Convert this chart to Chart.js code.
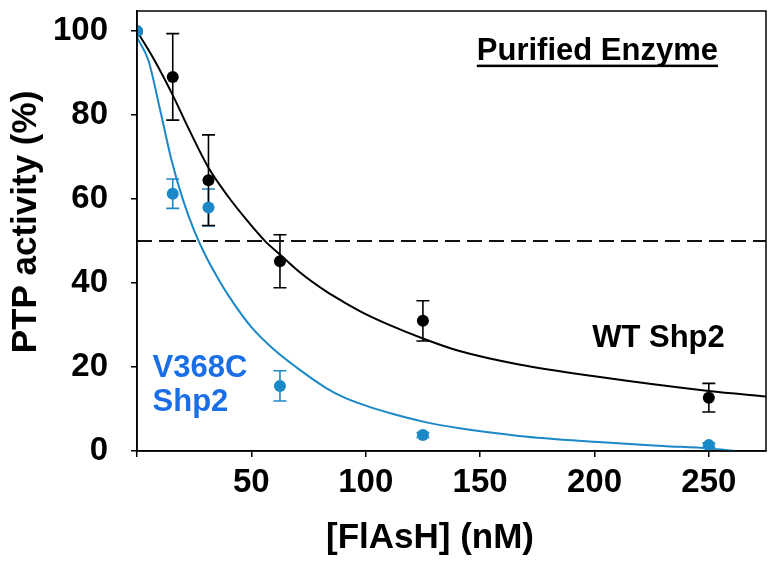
<!DOCTYPE html>
<html>
<head>
<meta charset="utf-8">
<script src="https://cdn.jsdelivr.net/npm/chart.js@4.4.1/dist/chart.umd.min.js"></script>
<style>
  html, body { margin: 0; padding: 0; background: #fff; }
  #wrap { width: 778px; height: 566px; }
</style>
</head>
<body>
<div id="wrap"><canvas id="myChart" width="778" height="566"></canvas></div>
<script>
// measured points (mean +/- error)
var dose = [0, 15.625, 31.25, 62.5, 125, 250];
var wtActivity = [100, 89.1, 64.5, 45.2, 31.0, 12.7];
var wtError = [0, 10.3, 10.8, 6.3, 4.8, 3.4];
var mutActivity = [100, 61.3, 58.0, 15.5, 3.8, 1.4];
var mutError = [0, 3.5, 4.4, 3.6, 0.6, 0.5];

// fitted curves
var wtFitX = [0, 7.7, 15.4, 23, 31, 40, 48, 56, 62.5, 72, 82.7, 90, 100, 110, 125, 141, 167, 200, 250, 275];
var wtFitY = [100, 93, 85, 76.3, 67.7, 60.5, 55, 50, 46.8, 42.2, 38.0, 35.6, 32.6, 30.1, 26.8, 23.8, 20.6, 17.8, 14.3, 13.0];
var mutFitX = [0, 5, 10, 15, 20, 25, 30, 35, 40, 50, 60, 70, 82.7, 90, 100, 112, 125, 141, 167, 200, 230, 250, 262];
var mutFitY = [98.5, 93, 81.5, 69.5, 60, 52.5, 46.5, 41.5, 37, 29.5, 24.1, 19.8, 15.0, 12.9, 10.8, 8.8, 7.0, 5.4, 3.6, 2.2, 1.2, 0.6, 0];

// 50% line
var halfX = [0, 275];
var halfY = [50, 50];

var xTicks = [0, 50, 100, 150, 200, 250];
var yTicks = [0, 20, 40, 60, 80, 100];

var FONT = "'Liberation Sans', Arial, sans-serif";
var BLUE = '#1b88c8';
var LABEL_BLUE = '#1a6fe6';

function pairs(xs, ys) {
    return xs.map(function (x, i) { return { x: x, y: ys[i] }; });
}

var errorBars = {
    id: 'errorBars',
    beforeDatasetsDraw: function (chart) {
        var ctx = chart.ctx, xs = chart.scales.x, ys = chart.scales.y;
        ctx.save();
        chart.data.datasets.forEach(function (ds) {
            if (!ds.errors) return;
            ctx.strokeStyle = ds.borderColor;
            ctx.lineWidth = 1.6;
            ds.data.forEach(function (p, j) {
                var e = ds.errors[j];
                if (!e) return;
                var px = xs.getPixelForValue(p.x);
                var top = ys.getPixelForValue(p.y + e);
                var bot = ys.getPixelForValue(p.y - e);
                ctx.beginPath();
                ctx.moveTo(px, top); ctx.lineTo(px, bot);
                ctx.moveTo(px - 6.5, top); ctx.lineTo(px + 6.5, top);
                ctx.moveTo(px - 6.5, bot); ctx.lineTo(px + 6.5, bot);
                ctx.stroke();
            });
        });
        ctx.restore();
    }
};

var labels = {
    id: 'labels',
    afterDraw: function (chart) {
        var ctx = chart.ctx, a = chart.chartArea, xs = chart.scales.x, ys = chart.scales.y;
        ctx.save();
        // frame
        ctx.strokeStyle = '#000';
        ctx.lineWidth = 1.5;
        ctx.strokeRect(a.left, a.top, a.right - a.left, a.bottom - a.top);

        ctx.fillStyle = '#000';
        ctx.font = 'bold 31px ' + FONT;
        ctx.textBaseline = 'alphabetic';
        ctx.textAlign = 'right';
        var rx = xs.getPixelForValue(254), by = ys.getPixelForValue(93.1);
        ctx.fillText('Purified Enzyme', rx, by);
        var w = ctx.measureText('Purified Enzyme').width;
        ctx.fillRect(rx - w, by + 4.5, w, 2.5);

        ctx.textAlign = 'left';
        ctx.fillText('WT Shp2', xs.getPixelForValue(199), ys.getPixelForValue(24.8));

        ctx.fillStyle = LABEL_BLUE;
        ctx.fillText('V368C', xs.getPixelForValue(6.8), ys.getPixelForValue(17.6));
        ctx.fillText('Shp2', xs.getPixelForValue(6.8), ys.getPixelForValue(9.6));

        // axis titles
        ctx.fillStyle = '#000';
        ctx.font = 'bold 35px ' + FONT;
        ctx.textAlign = 'center';
        ctx.fillText('[FlAsH] (nM)', 430, 548);
        ctx.translate(36, 222);
        ctx.rotate(-Math.PI / 2);
        ctx.font = 'bold 35px ' + FONT;
        ctx.fillText('PTP activity (%)', 0, 0);
        ctx.restore();
    }
};

var ctx = document.querySelector('#myChart').getContext('2d');
var myChart = new Chart(ctx, {
    type: 'scatter',
    data: {
        datasets: [
            {
                label: 'V368C Shp2',
                data: pairs(dose, mutActivity),
                errors: mutError,
                borderColor: BLUE,
                backgroundColor: BLUE,
                pointRadius: 6,
                pointBorderWidth: 0,
                showLine: false
            },
            {
                label: 'WT Shp2',
                data: pairs(dose, wtActivity),
                errors: wtError,
                borderColor: '#000',
                backgroundColor: '#000',
                pointRadius: 6,
                pointBorderWidth: 0,
                showLine: false
            },
            {
                label: 'V368C fit',
                data: pairs(mutFitX, mutFitY),
                borderColor: BLUE,
                borderWidth: 2,
                pointRadius: 0,
                showLine: true,
                cubicInterpolationMode: 'monotone'
            },
            {
                label: 'WT fit',
                data: pairs(wtFitX, wtFitY),
                borderColor: '#000',
                borderWidth: 2,
                pointRadius: 0,
                showLine: true,
                cubicInterpolationMode: 'monotone'
            },
            {
                label: '50%',
                data: pairs(halfX, halfY),
                borderColor: '#111',
                borderWidth: 2,
                borderDash: [15, 7],
                pointRadius: 0,
                showLine: true
            }
        ]
    },
    options: {
        responsive: false,
        animation: false,
        layout: { padding: { top: 11, right: 12, left: 0, bottom: 0 } },
        plugins: {
            legend: { display: false },
            tooltip: { enabled: false }
        },
        scales: {
            x: {
                type: 'linear',
                min: 0,
                max: 275,
                afterBuildTicks: function (s) { s.ticks = xTicks.map(function (v) { return { value: v }; }); },
                afterFit: function (s) { s.height = 115; s.paddingLeft = 0; s.paddingRight = 0; },
                ticks: {
                    color: '#000',
                    padding: 6,
                    font: { family: FONT, size: 33, weight: 'bold' },
                    callback: function (v) { return v === 0 ? '' : v; }
                },
                grid: { drawOnChartArea: false, drawTicks: true, tickLength: 6, color: '#000', lineWidth: 1.5 },
                border: { color: '#000', width: 1.5 }
            },
            y: {
                min: 0,
                max: 104.8,
                afterBuildTicks: function (s) { s.ticks = yTicks.map(function (v) { return { value: v }; }); },
                afterFit: function (s) { s.width = 137; s.paddingTop = 0; s.paddingBottom = 0; },
                ticks: {
                    color: '#000',
                    padding: 23,
                    font: { family: FONT, size: 33, weight: 'bold' }
                },
                grid: { drawOnChartArea: false, drawTicks: true, tickLength: 6, color: '#000', lineWidth: 1.5 },
                border: { color: '#000', width: 1.5 }
            }
        }
    },
    plugins: [errorBars, labels]
});
</script>
</body>
</html>
